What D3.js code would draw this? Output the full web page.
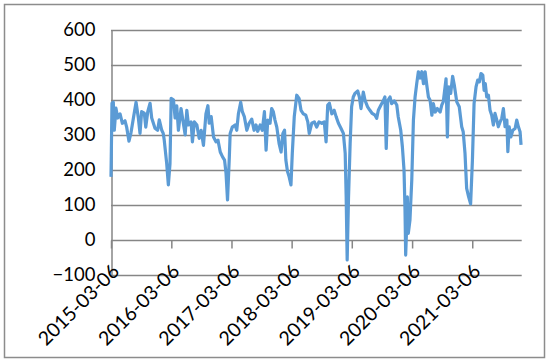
<!DOCTYPE html>
<html>
<head>
<meta charset="utf-8">
<script src="https://cdn.jsdelivr.net/npm/d3@7"></script>
<style>
  body { margin: 0; background: #fff; }
  svg { display: block; font-family: Lato, "Open Sans", sans-serif; }
</style>
</head>
<body>
<svg width="550" height="362"></svg>
<script>
// series, date + value
var dates = [
  "2015-03-06","2015-03-12","2015-03-20","2015-03-26","2015-04-05","2015-04-16","2015-04-30","2015-05-14","2015-05-30","2015-06-09",
  "2015-06-23","2015-07-05","2015-07-19","2015-08-05","2015-08-19","2015-08-29","2015-09-08","2015-09-24","2015-10-03","2015-10-15",
  "2015-10-29","2015-11-08","2015-11-28","2015-12-14","2015-12-24","2016-01-08","2016-01-17","2016-01-23","2016-02-07","2016-02-17",
  "2016-02-27","2016-03-05","2016-03-19","2016-03-29","2016-04-08","2016-04-18","2016-05-04","2016-05-18","2016-05-29","2016-06-08",
  "2016-06-18","2016-07-04","2016-07-12","2016-07-24","2016-08-08","2016-08-22","2016-09-03","2016-09-17","2016-10-02","2016-10-14",
  "2016-10-22","2016-11-03","2016-11-17","2016-12-02","2016-12-14","2016-12-28","2017-01-11","2017-01-23","2017-02-01","2017-02-10",
  "2017-02-21","2017-02-26","2017-03-11","2017-03-28","2017-04-07","2017-04-17","2017-05-01","2017-05-11","2017-05-23","2017-06-07",
  "2017-06-21","2017-07-07","2017-07-21","2017-08-02","2017-08-12","2017-08-27","2017-09-09","2017-09-22","2017-10-02","2017-10-12",
  "2017-10-26","2017-11-05","2017-11-15","2017-11-25","2017-12-06","2017-12-20","2018-01-01","2018-01-12","2018-01-22","2018-01-30",
  "2018-02-09","2018-02-19","2018-03-02","2018-03-10","2018-03-22","2018-04-06","2018-04-20","2018-05-02","2018-05-16","2018-05-31",
  "2018-06-12","2018-06-21","2018-07-06","2018-07-22","2018-08-05","2018-08-19","2018-09-05","2018-09-20","2018-10-01","2018-10-11",
  "2018-10-21","2018-11-05","2018-11-19","2018-12-01","2018-12-15","2018-12-31","2019-01-14","2019-01-25","2019-01-31","2019-02-06",
  "2019-02-14","2019-02-24","2019-03-05","2019-03-15","2019-03-25","2019-04-11","2019-04-21","2019-05-01","2019-05-15","2019-05-25",
  "2019-06-10","2019-06-24","2019-07-08","2019-07-25","2019-08-04","2019-08-14","2019-08-30","2019-09-13","2019-09-23","2019-10-01",
  "2019-10-10","2019-10-24","2019-11-03","2019-11-19","2019-12-04","2019-12-13","2019-12-28","2020-01-07","2020-01-17","2020-01-23",
  "2020-01-27","2020-02-02","2020-02-06","2020-02-12","2020-02-22","2020-03-04","2020-03-14","2020-03-24","2020-04-03","2020-04-13",
  "2020-04-24","2020-05-04","2020-05-14","2020-05-24","2020-06-03","2020-06-13","2020-06-23","2020-07-04","2020-07-13","2020-07-24",
  "2020-08-06","2020-08-23","2020-09-02","2020-09-11","2020-09-22","2020-09-28","2020-10-06","2020-10-14","2020-10-26","2020-11-07",
  "2020-11-17","2020-12-02","2020-12-17","2021-01-01","2021-01-10","2021-01-21","2021-01-31","2021-02-12","2021-02-24","2021-03-07",
  "2021-03-17","2021-03-29","2021-04-08","2021-04-18","2021-04-28","2021-05-09","2021-05-17","2021-05-24","2021-06-02","2021-06-12",
  "2021-06-22","2021-07-02","2021-07-12","2021-07-22","2021-08-02","2021-08-11","2021-08-22","2021-09-01","2021-09-11","2021-09-21",
  "2021-10-02","2021-10-08","2021-10-16","2021-10-26","2021-11-07","2021-11-21","2021-12-01","2021-12-11","2021-12-21","2021-12-27"
];
var values = [
  180,390,393,313,376,348,360,333,340,322,
  282,305,345,393,348,304,366,362,322,366,
  390,348,319,313,343,313,304,285,218,157,
  218,404,400,348,383,313,375,333,300,370,
  328,337,280,337,328,290,313,270,360,383,
  333,352,294,280,285,251,237,228,190,114,
  237,304,322,328,313,360,393,366,352,313,
  333,345,313,328,310,328,313,366,256,342,
  333,375,366,342,322,275,251,304,313,228,
  195,180,157,247,352,413,404,370,360,356,
  337,304,333,337,322,337,333,337,280,385,
  390,360,370,352,333,318,304,247,123,-57,
  118,275,380,408,418,425,408,375,422,399,
  380,370,361,356,347,370,385,397,408,261,
  397,408,389,397,385,351,313,266,199,85,
  -43,38,123,19,57,171,342,408,446,480,
  462,480,446,480,442,408,399,356,389,365,
  375,365,385,394,437,460,294,437,418,467,
  442,394,380,323,309,247,147,123,103,228,
  389,437,456,451,475,470,427,446,408,413,
  370,356,328,361,342,323,337,347,375,323,
  342,252,323,294,313,318,342,323,309,271
];
var yTicks = [-100, 0, 100, 200, 300, 400, 500, 600];
var xTickDates = ["2015-03-06","2016-03-06","2017-03-06","2018-03-06","2019-03-06","2020-03-06","2021-03-06"];
var xStart = "2015-03-06", xEnd = "2021-12-31";

var parseTime = d3.timeParse("%Y-%m-%d");
var data = dates.map(function(d, i) { return {date: parseTime(d), value: values[i]}; });

var svg = d3.select("svg");

svg.append("rect")
    .attr("x", 4.5).attr("y", 4.5)
    .attr("width", 540).attr("height", 353)
    .attr("fill", "#fff")
    .attr("stroke", "#8c8c8c")
    .attr("stroke-width", 1.5);

var x = d3.scaleTime().domain([parseTime(xStart), parseTime(xEnd)]).range([111, 521.7]),
    y = d3.scaleLinear().domain([-100, 600]).range([275, 29.7]);

// gridlines
svg.append("g")
  .selectAll("line")
  .data(yTicks)
  .enter().append("line")
    .attr("x1", 111).attr("x2", 521.7)
    .attr("y1", function(d) { return Math.round(y(d)) + 0.5; })
    .attr("y2", function(d) { return Math.round(y(d)) + 0.5; })
    .attr("stroke", "#868686")
    .attr("stroke-width", 1.5);

// y axis
var yAxis = svg.append("g")
    .attr("transform", "translate(111.5,0)")
    .call(d3.axisLeft(y).tickValues(yTicks).tickSize(0).tickPadding(16));
yAxis.select(".domain").attr("stroke", "#868686").attr("stroke-width", 1.5);
yAxis.selectAll("text")
    .attr("font-size", "18.5px")
    .attr("fill", "#000")
    .attr("font-family", "Lato, sans-serif");

// x axis sits on the zero line
var xAxis = svg.append("g")
    .attr("transform", "translate(0," + (Math.round(y(0)) + 0.5) + ")")
    .call(d3.axisBottom(x)
      .tickValues(xTickDates.map(parseTime))
      .tickSize(8)
      .tickFormat(d3.timeFormat("%Y-%m-%d")));
xAxis.select(".domain").remove();
xAxis.selectAll("line").attr("stroke", "#868686").attr("stroke-width", 1.5);
xAxis.selectAll("text")
    .attr("font-size", "19.5px")
    .attr("fill", "#000")
    .attr("font-family", "Lato, sans-serif")
    .attr("text-anchor", "end")
    .attr("dy", null)
    .attr("y", null)
    .attr("transform", "translate(9,32) rotate(-45)");

var line = d3.line()
    .x(function(d) { return x(d.date); })
    .y(function(d) { return y(d.value); });

svg.append("path")
    .datum(data)
    .attr("d", line)
    .attr("fill", "none")
    .attr("stroke", "#5b9bd5")
    .attr("stroke-width", 3.2)
    .attr("stroke-linejoin", "round");
</script>
</body>
</html>
